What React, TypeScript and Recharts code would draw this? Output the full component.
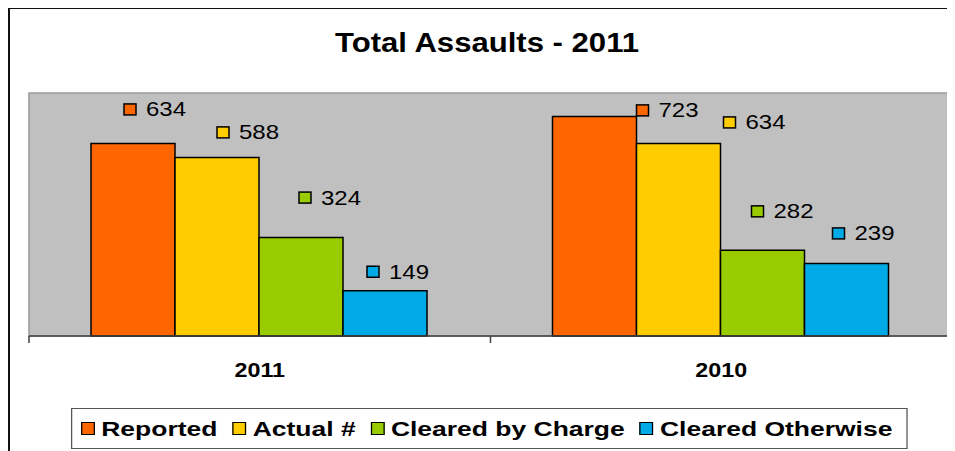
import React from 'react'
import {BarChart, Bar, XAxis, YAxis, CartesianGrid, Legend, LabelList, ReferenceArea} from 'recharts'

// チャートの値
const categories = ['2011', '2010']
const reported = [634, 723]
const actual = [588, 634]
const clearedByCharge = [324, 282]
const clearedOtherwise = [149, 239]

const SERIES = [
  {key: 'reported', name: 'Reported', color: '#FF6600', values: reported},
  {key: 'actual', name: 'Actual #', color: '#FFCC00', values: actual},
  {key: 'clearedByCharge', name: 'Cleared by Charge', color: '#99CC00', values: clearedByCharge},
  {key: 'clearedOtherwise', name: 'Cleared Otherwise', color: '#00AAE6', values: clearedOtherwise},
]

// ラベルの手動配置 (バー中心からの dx, バー上端からの dy)
const LABEL_NUDGE: Record<string, [number, number][]> = {
  reported: [[-9, 34], [42, 6]],
  actual: [[0, 25], [45, 21]],
  clearedByCharge: [[-2, 40], [-11, 39]],
  clearedOtherwise: [[-18, 19], [-14, 30]],
}

const W = 946
const H = 443
const MARGIN = {top: 85, right: 2, left: 21, bottom: 0}
const FONT = '"Liberation Sans", Arial, sans-serif'

const chartData = categories.map((category, i) => {
  const row: any = {category}
  SERIES.forEach(s => (row[s.key] = s.values[i]))
  return row
})

const CategoryTick = (props: any) => {
  const {x, y, payload, index, visibleTicksCount} = props
  const half = payload?.offset ?? (W - MARGIN.left - MARGIN.right) / categories.length / 2
  const last = index === (visibleTicksCount ?? categories.length) - 1
  return (
    <g>
      <line x1={x - half} y1={y} x2={x - half} y2={y + 7} stroke="#404040" strokeWidth={1.5} />
      {last && <line x1={x + half} y1={y} x2={x + half} y2={y + 7} stroke="#404040" strokeWidth={1.5} />}
      <text
        transform={`translate(${x},${y + 40.5}) scale(1.11,1)`}
        textAnchor="middle"
        fontFamily={FONT}
        fontWeight="bold"
        fontSize={21}
        fill="#000"
      >
        {payload.value}
      </text>
    </g>
  )
}

const makeLabel = (key: string, color: string) => (props: any) => {
  const vb = props.viewBox ?? props
  const bx = vb.x ?? props.x
  const by = vb.y ?? props.y
  const bw = vb.width ?? props.width
  const idx = props.index ?? 0
  const [dx, dy] = LABEL_NUDGE[key]?.[idx] ?? [0, 25]
  const sx = bx + bw / 2 + dx
  const cy = by - dy
  return (
    <g key={`${key}-${idx}`}>
      <rect x={sx} y={cy - 5.5} width={12} height={11} fill={color} stroke="#000" strokeWidth={1.5} />
      <text
        transform={`translate(${sx + 22},${cy + 7}) scale(1.2,1)`}
        fontFamily={FONT}
        fontSize={20}
        fill="#000"
      >
        {props.value}
      </text>
    </g>
  )
}

const seriesOrder = (entry: any) => SERIES.findIndex(s => s.key === entry.dataKey)

const LegendBox = (props: any) => {
  const payload = [...(props.payload ?? [])].sort((a, b) => seriesOrder(a) - seriesOrder(b))
  return (
    <div
      style={{
        display: 'inline-flex',
        alignItems: 'center',
        boxSizing: 'border-box',
        height: 41,
        border: '1px solid #555',
        background: '#fff',
        padding: '0 11px 0 7px',
        transform: 'scaleX(1.26)',
        transformOrigin: 'left center',
        whiteSpace: 'nowrap',
        fontFamily: FONT,
        fontWeight: 'bold',
        fontSize: 21,
        color: '#000',
      }}
    >
      {payload.map((entry: any, i: number) => (
        <span key={i} style={{display: 'inline-flex', alignItems: 'center', marginRight: i < payload.length - 1 ? 12 : 0}}>
          <span
            style={{
              display: 'inline-block',
              width: 9,
              height: 11.6,
              background: entry.color,
              border: '1px solid #000',
              marginRight: 5,
            }}
          />
          <span>{entry.value}</span>
        </span>
      ))}
    </div>
  )
}

export default function App() {
  return (
    <div style={{position: 'relative', width: W, height: H, background: '#fff'}}>
      <BarChart width={W} height={H} data={chartData} margin={MARGIN} barCategoryGap={62} barGap={0}>
        <CartesianGrid fill="#C0C0C0" horizontal={false} vertical={false} />
        <ReferenceArea y1={0} y2={800} fill="none" stroke="#999" strokeWidth={1.5} ifOverflow="extendDomain" />
        <XAxis
          dataKey="category"
          height={115}
          interval={0}
          tickSize={0}
          tickMargin={0}
          tickLine={false}
          axisLine={{stroke: '#404040', strokeWidth: 1.5}}
          tick={<CategoryTick />}
        />
        <YAxis hide domain={[0, 800]} />
        <Legend
          layout="horizontal"
          verticalAlign="middle"
          align="center"
          content={<LegendBox />}
          wrapperStyle={{left: 63, top: 400, width: 'auto', height: 'auto'}}
        />
        {SERIES.map(s => (
          <Bar
            key={s.key}
            dataKey={s.key}
            name={s.name}
            fill={s.color}
            stroke="#000"
            strokeWidth={1.5}
            isAnimationActive={false}
          >
            <LabelList dataKey={s.key} content={makeLabel(s.key, s.color)} />
          </Bar>
        ))}
      </BarChart>

      {/* タイトル */}
      <svg width={W} height={80} style={{position: 'absolute', left: 0, top: 0, pointerEvents: 'none'}}>
        <text
          transform="translate(479,43.7) scale(1.11,1)"
          textAnchor="middle"
          fontFamily={FONT}
          fontWeight="bold"
          fontSize={28}
          fill="#000"
        >
          Total Assaults - 2011
        </text>
      </svg>

      {/* 外枠 */}
      <div
        style={{
          position: 'absolute',
          left: 0,
          top: -1,
          width: W,
          height: H + 1,
          boxSizing: 'border-box',
          borderLeft: '2px solid #111',
          borderTop: '2px solid #111',
          pointerEvents: 'none',
        }}
      />
    </div>
  )
}
